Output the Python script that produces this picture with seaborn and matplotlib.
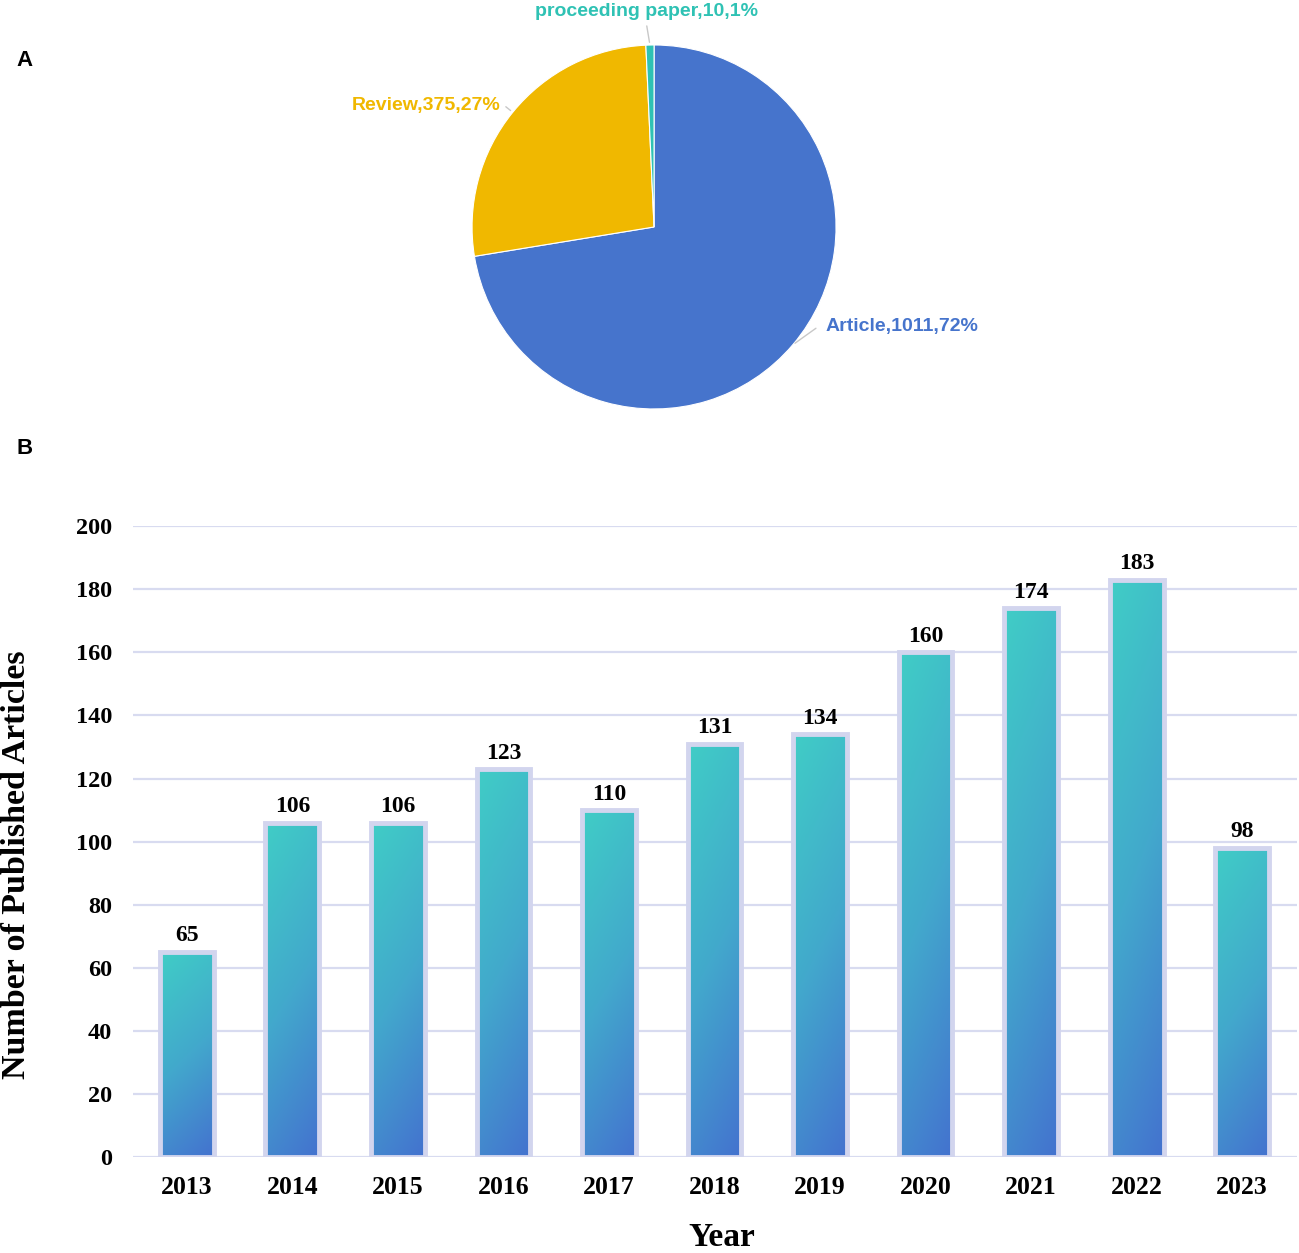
import matplotlib
matplotlib.use("Agg")
import matplotlib.pyplot as plt
import numpy as np
import pandas as pd
import seaborn as sns
from matplotlib.colors import LinearSegmentedColormap

# ---- data ----
doc_types = ["Article", "Review", "proceeding paper"]
doc_counts = [1011, 375, 10]
doc_pcts = [72, 27, 1]

years = ["2013", "2014", "2015", "2016", "2017", "2018", "2019", "2020", "2021", "2022", "2023"]
articles = [65, 106, 106, 123, 110, 131, 134, 160, 174, 183, 98]

# ---- style ----
sns.set_style("white")
plt.rcParams["text.color"] = "black"
plt.rcParams["xtick.color"] = "black"
plt.rcParams["ytick.color"] = "black"
plt.rcParams["axes.labelcolor"] = "black"
SERIF = ["Liberation Serif", "DejaVu Serif"]
SANS = ["Liberation Sans", "DejaVu Sans"]
pie_colors = ["#4674cc", "#f0b800", "#2fc2b4"]
grid_color = "#d8dbf0"
edge_color = "#d2d5ee"
grad = LinearSegmentedColormap.from_list("bars", ["#40cdc6", "#42a9cc", "#4472cf"])

fig = plt.figure(figsize=(12.99, 12.53), dpi=100)

# ---- panel A: pie ----
ax_pie = fig.add_axes([0.3634, 0.6736, 0.2802, 0.2905])
wedges, _ = ax_pie.pie(doc_counts, colors=pie_colors, startangle=90, counterclock=False,
                       wedgeprops=dict(edgecolor="white", linewidth=0.8))
ax_pie.set_xlim(-1, 1)
ax_pie.set_ylim(-1, 1)
ax_pie.set_aspect("equal")

# label placement relative to wedge edge point: (dx, dy, ha, va)
label_offsets = [(0.16, 0.10, "left", "center"),
                 (-0.07, 0.04, "right", "center"),
                 (-0.02, 0.14, "center", "bottom")]
for w, name, n, p, c, (dx, dy, ha, va) in zip(wedges, doc_types, doc_counts, doc_pcts,
                                             pie_colors, label_offsets):
    mid = np.deg2rad((w.theta1 + w.theta2) / 2)
    ex, ey = np.cos(mid), np.sin(mid)
    tx, ty = ex + dx, ey + dy
    lx = tx - (0.02 if ha == "left" else -0.02 if ha == "right" else 0)
    ly = ty - (0.02 if va == "bottom" else 0)
    ax_pie.annotate("", xy=(ex, ey), xytext=(lx, ly),
                    arrowprops=dict(arrowstyle="-", color="#c8c8c8", lw=1.0),
                    annotation_clip=False)
    ax_pie.text(tx + (0.02 if ha == "left" else 0), ty, f"{name},{n},{p}%", color=c,
                fontsize=14, fontweight="bold", family=SANS, ha=ha, va=va, clip_on=False)

# ---- panel B: bars ----
ax = fig.add_axes([0.1024, 0.0766, 0.8961, 0.5034])
df = pd.DataFrame({"Year": years, "Articles": articles})
sns.barplot(data=df, x="Year", y="Articles", width=0.51, ax=ax,
            facecolor="none", edgecolor=edge_color, linewidth=3.5, zorder=3)

yy, xx = np.mgrid[0:1:200j, 0:1:40j]
tgrad = np.clip(0.8 * yy + 0.2 * xx, 0, 1)
for bar in ax.patches:
    x0, y0 = bar.get_x(), bar.get_y()
    w, h = bar.get_width(), bar.get_height()
    im = ax.imshow(tgrad, cmap=grad, vmin=0, vmax=1, aspect="auto",
                   extent=[x0, x0 + w, y0, y0 + h], origin="upper", zorder=2.5)
    im.set_clip_path(bar)
    bar.set_zorder(3)

ax.bar_label(ax.containers[0], labels=[str(v) for v in articles], padding=4,
             fontsize=17, fontweight="bold", family=SERIF, color="black")

ax.set_xlim(-0.51, 10.52)
ax.set_ylim(0, 200)
ax.set_yticks(range(0, 201, 20))
ax.yaxis.grid(True, color=grid_color, linewidth=1.6, zorder=0)
ax.set_axisbelow(True)
for s in ax.spines.values():
    s.set_visible(False)
ax.tick_params(axis="both", length=0, colors="black")
ax.tick_params(axis="x", pad=14)
ax.tick_params(axis="y", pad=15)
for t in ax.get_xticklabels():
    t.set_fontfamily(SERIF)
    t.set_fontweight("bold")
    t.set_fontsize(18.5)
for t in ax.get_yticklabels():
    t.set_fontfamily(SERIF)
    t.set_fontweight("bold")
    t.set_fontsize(17.5)

ax.set_xlabel("Year", fontsize=24, fontweight="bold", family=SERIF, color="black")
ax.set_ylabel("Number of Published Articles", fontsize=24.5, fontweight="bold", family=SERIF,
              color="black")
ax.xaxis.label.set_va("center")
ax.yaxis.label.set_va("center")
ax.xaxis.set_label_coords(0.506, -0.128)
ax.yaxis.set_label_coords(-0.1, 0.463)

fig.text(0.0192, 0.952, "A", fontsize=16, fontweight="bold", family=SANS, ha="center", va="center",
         color="black")
fig.text(0.0192, 0.6417, "B", fontsize=16, fontweight="bold", family=SANS, ha="center", va="center",
         color="black")

fig.savefig("out.png", dpi=100)
